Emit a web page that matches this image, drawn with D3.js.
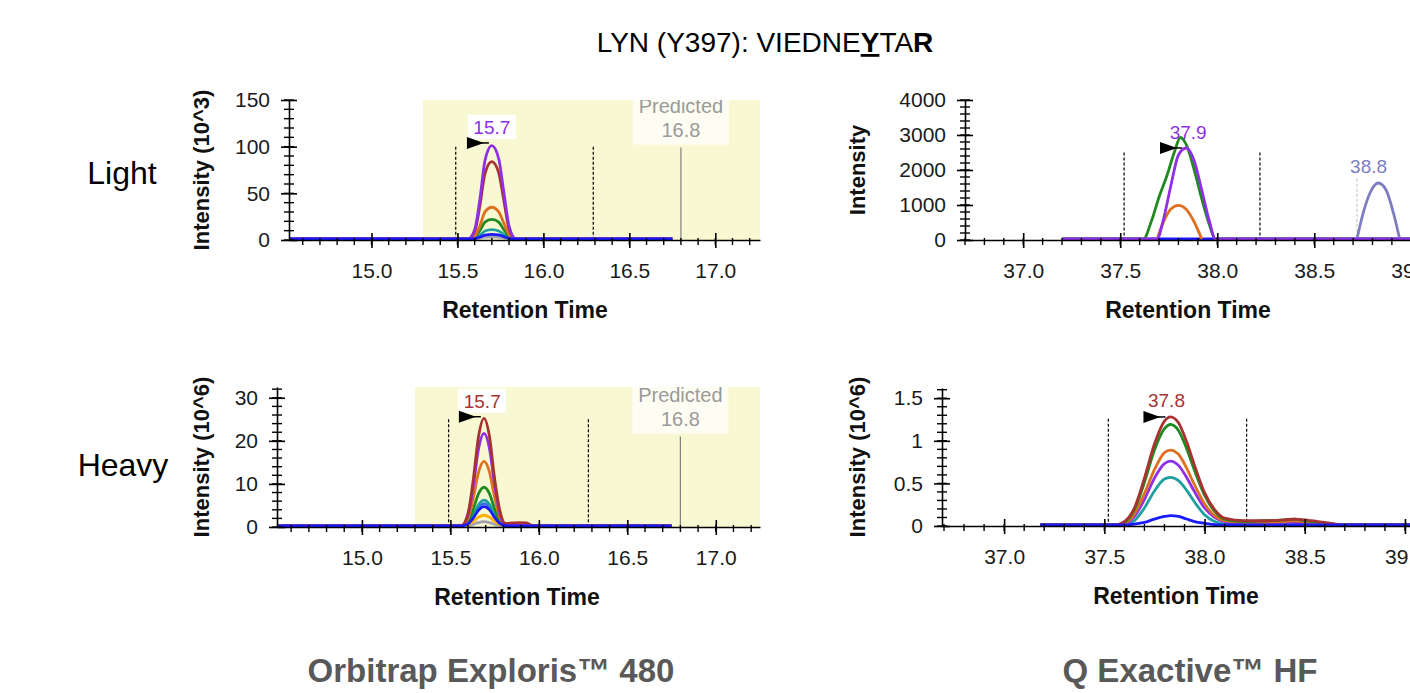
<!DOCTYPE html>
<html>
<head>
<meta charset="utf-8">
<script src="https://cdn.jsdelivr.net/npm/d3@7"></script>
<style>
  body { margin: 0; background: #fff; }
  text { font-family: Arial, "Liberation Sans", sans-serif; }
</style>
</head>
<body>
<svg id="chart" width="1410" height="693"></svg>
<script>
// ---- data ----

// top left: Orbitrap Exploris 480, light peptide (10^3)
var tlTime   = [14.52, 15.50, 15.56, 15.60, 15.63, 15.66, 15.70, 15.74, 15.77, 15.80, 15.84, 16.00, 16.75];
var tlGray   = [0, 0, 0, 0.2, 1.0, 2.0, 2.4, 2.0, 1.2, 0.3, 0, 0, 0];
var tlTeal   = [0, 0, 0, 1.0, 4.0, 8.5, 10, 8.5, 5.0, 1.5, 0, 0, 0];
var tlGreen  = [0, 0, 0, 2.0, 9.0, 18, 21, 18, 10, 3.0, 0, 0, 0];
var tlOrange = [0, 0, 0, 3.0, 14, 29, 34, 29, 17, 5.0, 0, 0, 0];
var tlBrown  = [0, 0, 0, 8.0, 35, 70, 83, 71, 41, 11, 0, 0, 0];
var tlPurple = [0, 0, 0, 10, 42, 84, 100, 86, 50, 14, 0, 0, 0];
var tlBlue   = [0, 0, 0, 0.5, 2.0, 4.2, 5.0, 4.3, 2.5, 0.7, 0, 0, 0];

// top right: Q Exactive HF, light peptide
var trBaseTime  = [37.20, 39.10];
var trBase      = [0, 0];
var trGreenTime = [37.20, 37.62, 37.66, 37.70, 37.74, 37.78, 37.81, 37.84, 37.88, 37.92, 37.96, 37.99, 39.10];
var trGreen     = [0, 0, 500, 1200, 1800, 2500, 2900, 2700, 2000, 1150, 400, 0, 0];
var trOrangeTime = [37.69, 37.72, 37.76, 37.80, 37.84, 37.88, 37.92];
var trOrange     = [0, 450, 850, 960, 850, 500, 0];
var trPurpleTime = [37.20, 37.69, 37.72, 37.76, 37.80, 37.84, 37.88, 37.92, 37.96, 37.99, 39.10];
var trPurple     = [0, 0, 500, 1500, 2400, 2600, 2250, 1400, 500, 0, 0];
var trSlateTime  = [38.72, 38.75, 38.79, 38.83, 38.87, 38.91, 38.94];
var trSlate      = [0, 700, 1350, 1600, 1400, 700, 0];

// bottom left: Orbitrap Exploris 480, heavy peptide (10^6)
var blTime   = [14.52, 15.50, 15.56, 15.60, 15.63, 15.66, 15.69, 15.72, 15.75, 15.78, 15.81, 15.85, 15.89, 15.93, 15.97, 16.75];
var blGray   = [0, 0, 0, 0.1, 0.4, 0.8, 1.0, 0.8, 0.4, 0.1, 0, 0, 0, 0, 0, 0];
var blGold   = [0, 0, 0, 0.3, 1.1, 2.1, 2.5, 2.1, 1.1, 0.3, 0, 0, 0, 0, 0, 0];
var blSky    = [0, 0, 0, 0.6, 2.2, 4.3, 5.2, 4.4, 2.3, 0.6, 0.1, 0, 0, 0, 0, 0];
var blTeal   = [0, 0, 0, 0.7, 2.6, 5.0, 6.0, 5.1, 2.7, 0.7, 0.1, 0, 0, 0, 0, 0];
var blGreen  = [0, 0, 0, 1.1, 4.0, 7.6, 9.0, 7.6, 4.0, 1.2, 0.2, 0, 0, 0, 0, 0];
var blOrange = [0, 0, 0, 1.8, 6.6, 12.6, 15.0, 12.7, 6.7, 2.0, 0.3, 0.2, 0.2, 0.1, 0, 0];
var blPurple = [0, 0, 0, 2.6, 9.5, 18.1, 21.5, 18.2, 9.6, 2.8, 0.4, 0.3, 0.3, 0.2, 0, 0];
var blBrown  = [0, 0, 0, 3.0, 11, 21, 25, 21, 11, 3.5, 0.6, 0.7, 0.8, 0.7, 0, 0];
var blBlue   = [0, 0, 0, 0.5, 1.9, 3.7, 4.5, 3.8, 2.0, 0.6, 0.1, 0, 0, 0, 0, 0];

// bottom right: Q Exactive HF, heavy peptide (10^6)
var brTime   = [37.18, 37.55, 37.60, 37.65, 37.70, 37.75, 37.80, 37.83, 37.87, 37.91, 37.95, 38.00, 38.05, 38.10, 38.20, 38.30, 38.40, 38.45, 38.50, 38.60, 38.70, 39.10];
var brTeal   = [0, 0, 0, 0.05, 0.20, 0.40, 0.54, 0.56, 0.52, 0.41, 0.27, 0.12, 0.04, 0.01, 0, 0, 0, 0, 0, 0, 0, 0];
var brPurple = [0, 0, 0.01, 0.10, 0.30, 0.55, 0.72, 0.75, 0.70, 0.56, 0.39, 0.20, 0.09, 0.04, 0.02, 0.02, 0.03, 0.03, 0.02, 0.01, 0, 0];
var brOrange = [0, 0, 0.02, 0.13, 0.37, 0.65, 0.85, 0.88, 0.83, 0.67, 0.47, 0.25, 0.11, 0.05, 0.03, 0.03, 0.04, 0.05, 0.04, 0.02, 0, 0];
var brGreen  = [0, 0, 0.03, 0.18, 0.50, 0.88, 1.13, 1.18, 1.11, 0.90, 0.64, 0.35, 0.16, 0.07, 0.04, 0.05, 0.06, 0.07, 0.05, 0.02, 0, 0];
var brBrown  = [0, 0, 0.04, 0.20, 0.55, 0.95, 1.22, 1.27, 1.20, 0.98, 0.70, 0.38, 0.18, 0.08, 0.05, 0.05, 0.06, 0.07, 0.06, 0.03, 0, 0];
var brBlue   = [0, 0, 0, 0.01, 0.03, 0.07, 0.10, 0.11, 0.10, 0.07, 0.04, 0.02, 0.005, 0, 0, 0, 0, 0, 0, 0, 0, 0];

// tick labels
var xTicksLeft  = [15.0, 15.5, 16.0, 16.5, 17.0];
var xTicksRight = [37.0, 37.5, 38.0, 38.5, 39.0];
var yTicksTL = [0, 50, 100, 150];
var yTicksTR = [0, 1000, 2000, 3000, 4000];
var yTicksBL = [0, 10, 20, 30];
var yTicksBR = [0, 0.5, 1, 1.5];

// integration boundaries, predicted RT
var boundsTL = [15.49, 16.29];
var boundsTR = [37.52, 38.22];
var boundsBL = [15.49, 16.28];
var boundsBR = [37.52, 38.21];
var predictedRT = 16.8;

var col = {
  purple: "#8f2fe6", brown: "#a83232", orange: "#e0701f", green: "#1f8a1f",
  teal: "#1fa0a0", blue: "#1a1aff", gray: "#a0a0b0", gold: "#ffb000",
  sky: "#3a6ee8", slate: "#7d7dc0"
};

var svg = d3.select("#chart");

var panels = [
  { id: "tl", left: 289, right: 760, top: 100, bottom: 240, xDom: [14.52, 17.26], yDom: [0, 150],
    xTicks: xTicksLeft, yTicks: yTicksTL, yMinor: 10, yTitle: "Intensity (10^3)", titleX: 201, rtX: 525,
    window: [15.30, 17.26], bounds: boundsTL, boundTop: 100, predTop: 99,
    traces: [
      { t: tlTime, v: tlGray, c: col.gray }, { t: tlTime, v: tlTeal, c: col.teal },
      { t: tlTime, v: tlGreen, c: col.green }, { t: tlTime, v: tlOrange, c: col.orange },
      { t: tlTime, v: tlBrown, c: col.brown }, { t: tlTime, v: tlPurple, c: col.purple },
      { t: tlTime, v: tlBlue, c: col.blue }],
    flag: [15.555, 104], labels: [{ t: 15.70, v: 121, text: "15.7", c: col.purple, box: true }] },
  { id: "tr", left: 965, right: 1421, top: 100, bottom: 240, xDom: [36.70, 39.05], yDom: [0, 4000],
    xTicks: xTicksRight, yTicks: yTicksTR, yMinor: 200, yTitle: "Intensity", titleX: 857, rtX: 1188,
    bounds: boundsTR, boundTop: 2500,
    traces: [
      { t: trBaseTime, v: trBase, c: col.blue }, { t: trGreenTime, v: trGreen, c: col.green },
      { t: trOrangeTime, v: trOrange, c: col.orange }, { t: trSlateTime, v: trSlate, c: col.slate },
      { t: trPurpleTime, v: trPurple, c: col.purple }],
    ghost: [38.72, 1750],
    flag: [37.705, 2630], labels: [{ t: 37.85, v: 3090, text: "37.9", c: col.purple },
                                   { t: 38.78, v: 2110, text: "38.8", c: col.slate }] },
  { id: "bl", left: 277, right: 760, top: 387, bottom: 527, xDom: [14.52, 17.25], yDom: [0, 32.5],
    xTicks: xTicksLeft, yTicks: yTicksBL, yMinor: 2, yTitle: "Intensity (10^6)", titleX: 201, rtX: 517,
    window: [15.30, 17.25], bounds: boundsBL, boundTop: 25, predTop: 21,
    traces: [
      { t: blTime, v: blGray, c: col.gray }, { t: blTime, v: blGold, c: col.gold },
      { t: blTime, v: blSky, c: col.sky }, { t: blTime, v: blTeal, c: col.teal },
      { t: blTime, v: blGreen, c: col.green }, { t: blTime, v: blOrange, c: col.orange },
      { t: blTime, v: blPurple, c: col.purple }, { t: blTime, v: blBrown, c: col.brown },
      { t: blTime, v: blBlue, c: col.blue }],
    flag: [15.548, 25.6], labels: [{ t: 15.68, v: 29.3, text: "15.7", c: col.brown, box: true }] },
  { id: "br", left: 942, right: 1421, top: 388, bottom: 526, xDom: [36.69, 39.08], yDom: [0, 1.62],
    xTicks: xTicksRight, yTicks: yTicksBR, yMinor: 0.1, yTitle: "Intensity (10^6)", titleX: 857, rtX: 1176,
    bounds: boundsBR, boundTop: 1.26,
    traces: [
      { t: brTime, v: brTeal, c: col.teal }, { t: brTime, v: brPurple, c: col.purple },
      { t: brTime, v: brOrange, c: col.orange }, { t: brTime, v: brGreen, c: col.green },
      { t: brTime, v: brBrown, c: col.brown }, { t: brTime, v: brBlue, c: col.blue }],
    flag: [37.695, 1.28], labels: [{ t: 37.81, v: 1.48, text: "37.8", c: col.brown }] }
];

panels.forEach(drawPanel);

function drawPanel(p) {
  var x = d3.scaleLinear().domain(p.xDom).range([p.left, p.right]);
  var y = d3.scaleLinear().domain(p.yDom).range([p.bottom, p.top]);
  var g = svg.append("g");

  svg.append("clipPath").attr("id", "clip-" + p.id)
    .append("rect").attr("x", p.left).attr("y", p.top)
    .attr("width", p.right - p.left).attr("height", p.bottom - p.top + 3);
  var plot = g.append("g").attr("clip-path", "url(#clip-" + p.id + ")");

  // predicted RT window
  if (p.window) {
    plot.append("rect")
      .attr("x", x(p.window[0])).attr("y", p.top)
      .attr("width", x(p.window[1]) - x(p.window[0])).attr("height", p.bottom - p.top)
      .attr("fill", "#f8f8d2");
    var px = x(predictedRT), pt = y(p.predTop);
    plot.append("line").attr("x1", px).attr("x2", px).attr("y1", pt).attr("y2", p.bottom)
      .attr("stroke", "#808080").attr("stroke-width", 1.2);
    plot.append("rect").attr("x", px - 48).attr("y", pt - 52).attr("width", 96).attr("height", 49)
      .attr("fill", "#fff").attr("opacity", 0.75);
    plot.append("text").attr("x", px).attr("y", pt - 35).attr("text-anchor", "middle")
      .attr("font-size", 20).attr("fill", "#9a9a9a").text("Predicted");
    plot.append("text").attr("x", px).attr("y", pt - 11).attr("text-anchor", "middle")
      .attr("font-size", 20).attr("fill", "#9a9a9a").text(predictedRT.toFixed(1));
  }

  // integration boundaries
  p.bounds.forEach(function(b) {
    plot.append("line").attr("x1", x(b)).attr("x2", x(b))
      .attr("y1", y(p.boundTop)).attr("y2", p.bottom)
      .attr("stroke", "#000").attr("stroke-width", 1.2).attr("stroke-dasharray", "3,2");
  });
  if (p.ghost) {
    plot.append("line").attr("x1", x(p.ghost[0])).attr("x2", x(p.ghost[0]))
      .attr("y1", y(p.ghost[1])).attr("y2", p.bottom)
      .attr("stroke", "#c8c8c8").attr("stroke-width", 1.2).attr("stroke-dasharray", "3,2");
  }

  // chromatogram traces
  var line = d3.line().curve(d3.curveMonotoneX)
    .x(function(d) { return x(d[0]); })
    .y(function(d) { return y(d[1]) - 1; });
  p.traces.forEach(function(tr) {
    plot.append("path")
      .datum(tr.t.map(function(t, i) { return [t, tr.v[i]]; }))
      .attr("d", line).attr("fill", "none")
      .attr("stroke", tr.c).attr("stroke-width", 2.8).attr("stroke-linejoin", "round");
  });

  // peak labels
  p.labels.forEach(function(l) {
    if (l.box) {
      g.append("rect").attr("x", x(l.t) - 24).attr("y", y(l.v) - 12).attr("width", 48).attr("height", 24)
        .attr("fill", "#fff");
    }
    g.append("text").attr("x", x(l.t)).attr("y", y(l.v) + 7).attr("text-anchor", "middle")
      .attr("font-size", 19).attr("fill", l.c).text(l.text);
  });

  // best-peak flag
  var fx = x(p.flag[0]), fy = y(p.flag[1]);
  g.append("path").attr("d", "M" + fx + "," + (fy - 6) + "L" + fx + "," + (fy + 6) + "L" + (fx + 17) + "," + fy + "Z")
    .attr("fill", "#000");
  g.append("line").attr("x1", fx + 14).attr("x2", fx + 22).attr("y1", fy).attr("y2", fy)
    .attr("stroke", "#000").attr("stroke-width", 1.5);

  // x axis
  var xa = g.append("g").attr("transform", "translate(0," + p.bottom + ")")
    .call(d3.axisBottom(x).tickValues(p.xTicks).tickFormat(d3.format(".1f"))
      .tickSize(8).tickPadding(15).tickSizeOuter(0));
  var xMinor = d3.range(Math.ceil(p.xDom[0] * 10), Math.floor(p.xDom[1] * 10) + 1)
    .map(function(v) { return v / 10; });
  xa.selectAll(".minor").data(xMinor).enter().append("line").attr("class", "minor")
    .attr("x1", x).attr("x2", x).attr("y1", -2).attr("y2", 5)
    .attr("stroke", "#000").attr("stroke-width", 1.4);
  styleAxis(xa);
  xa.selectAll(".tick line").attr("y1", -7);

  // y axis
  var ya = g.append("g").attr("transform", "translate(" + p.left + ",0)")
    .call(d3.axisLeft(y).tickValues(p.yTicks).tickFormat(function(d) { return String(d); })
      .tickSize(8).tickPadding(11).tickSizeOuter(0));
  var yMinor = d3.range(0, Math.round(p.yDom[1] / p.yMinor) + 1).map(function(i) { return +(i * p.yMinor).toFixed(3); })
    .filter(function(v) { return v <= p.yDom[1]; });
  ya.selectAll(".minor").data(yMinor).enter().append("line").attr("class", "minor")
    .attr("y1", y).attr("y2", y).attr("x1", -5).attr("x2", 5)
    .attr("stroke", "#000").attr("stroke-width", 1.4);
  styleAxis(ya);
  ya.selectAll(".tick line").attr("x1", 8);

  // axis titles
  g.append("text").attr("x", p.rtX)
    .attr("y", p.bottom + 78).attr("text-anchor", "middle")
    .attr("font-size", 23).attr("font-weight", "bold").attr("fill", "#111").text("Retention Time");
  g.append("text").attr("transform", "translate(" + p.titleX + "," + ((p.top + p.bottom) / 2) + ") rotate(-90)")
    .attr("text-anchor", "middle").attr("dy", "0.35em")
    .attr("font-size", 22).attr("font-weight", "bold").attr("fill", "#111").text(p.yTitle);
}

function styleAxis(a) {
  a.attr("color", "#000");
  a.select(".domain").attr("stroke-width", 1.6);
  a.selectAll(".tick line").attr("stroke-width", 1.6);
  a.selectAll("text").attr("font-size", 21).attr("font-family", "Arial, 'Liberation Sans', sans-serif")
    .attr("fill", "#1a1a1a");
}

// title
var title = svg.append("text").attr("x", 765).attr("y", 52).attr("text-anchor", "middle")
  .attr("font-size", 28).attr("fill", "#000");
title.append("tspan").text("LYN (Y397): VIEDNE");
title.append("tspan").attr("font-weight", "bold").attr("text-decoration", "underline").text("Y");
title.append("tspan").text("TA");
title.append("tspan").attr("font-weight", "bold").text("R");

// row and column labels
svg.append("text").attr("x", 122).attr("y", 184).attr("text-anchor", "middle")
  .attr("font-size", 32).attr("fill", "#000").text("Light");
svg.append("text").attr("x", 123).attr("y", 476).attr("text-anchor", "middle")
  .attr("font-size", 32).attr("fill", "#000").text("Heavy");
svg.append("text").attr("x", 491).attr("y", 682).attr("text-anchor", "middle")
  .attr("font-size", 33).attr("font-weight", "bold").attr("fill", "#595959").text("Orbitrap Exploris\u2122 480");
svg.append("text").attr("x", 1190).attr("y", 682).attr("text-anchor", "middle")
  .attr("font-size", 33).attr("font-weight", "bold").attr("fill", "#595959").text("Q Exactive\u2122 HF");
</script>
</body>
</html>
